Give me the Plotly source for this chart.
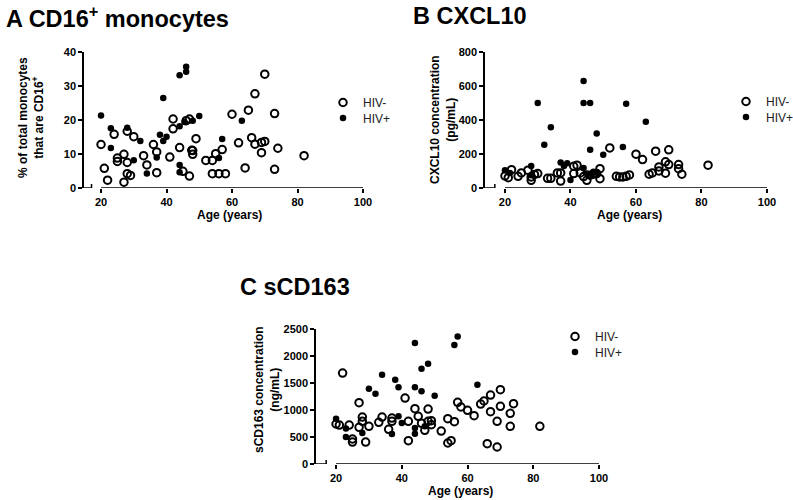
import plotly.graph_objects as go

W, H = 793, 500

# ---------------- DATA ----------------
# Panel A: CD16+ monocytes (% of total monocytes)
a_neg_age = [20, 21, 22, 24, 25, 25, 27, 27, 28, 28, 28, 29, 30, 33, 34, 36, 37, 37, 41, 42, 42, 44, 45,
             46, 47, 47, 47.7, 48, 48, 49, 52, 54, 54, 55, 56, 57, 58, 60, 62, 64, 65, 66, 67, 67, 69, 69,
             70, 70, 73, 73, 74, 82]
a_neg_val = [12.8, 5.8, 2.3, 15.8, 8.8, 7.8, 9.9, 1.7, 7.5, 16.7, 4.2, 3.7, 15.1, 9.5, 6.8, 12.8, 10.6, 4.5,
             9.1, 17.4, 20.3, 11.9, 4.9, 19.8, 20.3, 3.5, 11.1, 11.0, 9.9, 14.5, 8.1, 8.1, 4.2, 10.1, 4.2,
             11.3, 4.2, 21.7, 13.3, 5.9, 22.9, 14.8, 27.7, 12.9, 10.4, 13.4, 13.7, 33.5, 21.9, 5.5, 11.7, 9.5]
a_pos_age = [20, 23, 23, 28, 30, 32, 34, 37, 38, 39, 39, 40, 44, 44, 44, 44, 45.5, 46, 46, 48, 50, 56, 57, 63]
a_pos_val = [21.3, 17.6, 11.8, 17.7, 8.2, 13.8, 4.3, 9.0, 15.7, 26.5, 13.8, 15.1, 33.2, 18.2, 6.8, 4.6,
             19.4, 34.2, 35.7, 19.8, 21.2, 8.8, 14.4, 19.8]

# Panel B: CXCL10 concentration (pg/mL)
b_neg_age = [20, 21, 22, 24, 25, 27, 28, 28, 29, 30, 33, 34, 36, 37, 37, 41, 41, 42, 43, 44, 45, 46, 47,
             48, 49, 49, 52, 54, 55, 56, 57, 58, 60, 62, 64, 65, 66, 67, 67, 69, 69, 70, 70, 73, 73, 74, 82]
b_neg_val = [71, 61, 108, 69, 89, 105, 45, 65, 80, 85, 57, 57, 89, 89, 41, 85, 128, 134, 89, 67, 45, 75, 81,
             85, 114, 55, 236, 69, 65, 65, 69, 77, 199, 167, 81, 89, 217, 124, 100, 154, 87, 225, 138, 138,
             114, 81, 134]
b_pos_age = [20, 21.5, 28, 28, 30, 32, 34, 37, 38, 39, 40, 44, 44, 44, 45, 46, 46, 46, 47, 48, 48, 50, 56,
             57, 63]
b_pos_val = [104, 89, 130, 75, 500, 254, 357, 150, 130, 145, 47, 630, 500, 118, 85, 500, 225, 70, 95, 321,
             90, 195, 242, 496, 390]

# Panel C: sCD163 concentration (ng/mL)
c_neg_age = [20, 21, 22, 24, 25, 25, 27, 27, 28, 28, 29, 30, 33, 34, 36, 37, 37, 41, 42, 42, 44, 45, 46,
             47, 48, 48, 49, 49, 52, 54, 54, 55, 56, 57, 58, 60, 62, 64, 65, 66, 67, 67, 69, 69, 70, 70,
             73, 73, 74, 82]
c_neg_val = [741, 722, 1685, 722, 463, 407, 1136, 679, 870, 790, 407, 698, 772, 870, 642, 790, 850, 1222,
             790, 432, 1025, 883, 753, 623, 1018, 790, 802, 728, 611, 840, 389, 432, 784, 1142, 1056, 994,
             895, 1111, 1167, 377, 1278, 969, 790, 315, 1377, 1068, 938, 698, 1117, 698]
c_pos_age = [20, 23, 23, 28, 30, 32, 34, 37, 38, 39, 39, 40, 44, 44, 44, 44, 46, 46, 47, 48, 50, 56, 57, 63]
c_pos_val = [840, 660, 500, 574, 1395, 1302, 1654, 556, 1562, 1420, 883, 759, 2240, 1420, 667, 562, 1765,
             1346, 700, 1858, 1265, 2204, 2364, 1469]

x_ticks = [20, 40, 60, 80, 100]
a_y_ticks = [0, 10, 20, 30, 40]
b_y_ticks = [0, 200, 400, 600, 800]
c_y_ticks = [0, 500, 1000, 1500, 2000, 2500]
series_names = ["HIV-", "HIV+"]

# ---------------- LAYOUT GEOMETRY (pixels) ----------------
panels = [
    dict(x0=84, x1=363, yt=52, yb=188, xstart=14.8, brk=17.1, ymax=40, yticks=a_y_ticks,
         neg=(a_neg_age, a_neg_val), pos=(a_pos_age, a_pos_val), leg=(343, 101)),
    dict(x0=485, x1=767, yt=52, yb=188, xstart=13.9, brk=16.9, ymax=800, yticks=b_y_ticks,
         neg=(b_neg_age, b_neg_val), pos=(b_pos_age, b_pos_val), leg=(746, 100)),
    dict(x0=316, x1=599, yt=329, yb=464, xstart=13.9, brk=17.0, ymax=2500, yticks=c_y_ticks,
         neg=(c_neg_age, c_neg_val), pos=(c_pos_age, c_pos_val), leg=(575, 335)),
]
LEG_ROW = 15.5

def px(x):
    return x / W

def py(y):
    return 1 - y / H

FONT = "Liberation Sans, Arial, sans-serif"

fig = go.Figure()
shapes = []
layout = dict(width=W, height=H, margin=dict(l=0, r=0, t=0, b=0, pad=0, autoexpand=False),
              paper_bgcolor="white", plot_bgcolor="white", showlegend=True)

leg_idx = 0
for i, p in enumerate(panels):
    k = "" if i == 0 else str(i + 1)
    xa, ya = "x" + k, "y" + k
    markers = [dict(symbol="circle-open", size=7.5, color="black", line=dict(width=2, color="black")),
               dict(symbol="circle", size=6.5, color="black")]
    for j, (data, mk) in enumerate(zip([p["neg"], p["pos"]], markers)):
        leg_idx += 1
        lname = "legend" if leg_idx == 1 else "legend%d" % leg_idx
        fig.add_trace(go.Scatter(x=data[0], y=data[1], mode="markers", name=series_names[j],
                                 xaxis=xa, yaxis=ya, legend=lname, cliponaxis=False, marker=mk))
        lx, ly = p["leg"]
        ly = ly + j * LEG_ROW
        layout[lname] = dict(x=px(lx - 20), y=py(ly - 13), xanchor="left", yanchor="top",
                             bgcolor="rgba(0,0,0,0)", borderwidth=0, tracegroupgap=0,
                             font=dict(family=FONT, size=12, color="#222"))
    layout["xaxis" + k] = dict(domain=[px(p["x0"]), px(p["x1"])], range=[p["xstart"], 100],
                               anchor=ya, showline=False, showgrid=False, zeroline=False,
                               automargin=False,
                               ticks="outside", ticklen=4, tickwidth=1.5, tickcolor="black",
                               tickvals=x_ticks,
                               tickfont=dict(family=FONT, size=11, color="black", weight="bold"))
    layout["yaxis" + k] = dict(domain=[py(p["yb"]), py(p["yt"])], range=[0, p["ymax"] * 1.0005],
                               anchor=xa, showline=True, linecolor="black", linewidth=1.5,
                               automargin=False,
                               showgrid=False, zeroline=False, ticks="outside", ticklen=4,
                               tickwidth=1.5, tickcolor="black", tickvals=p["yticks"],
                               tickfont=dict(family=FONT, size=11, color="black", weight="bold"))
    # broken x axis line
    shapes.append(dict(type="line", xref=xa, yref=ya, x0=p["xstart"], x1=p["brk"], y0=0, y1=0,
                       line=dict(color="black", width=1.5)))
    shapes.append(dict(type="line", xref=xa, yref=ya, x0=20, x1=100, y0=0, y1=0,
                       line=dict(color="black", width=1.5)))
    shapes.append(dict(type="line", xref=xa, yref=ya, ysizemode="pixel", yanchor=0,
                       x0=p["brk"], x1=p["brk"], y0=-4, y1=4,
                       line=dict(color="black", width=1.5)))

layout["shapes"] = shapes

title_font = dict(family=FONT, size=23.5, color="black", weight="bold")
lab_font = dict(family=FONT, size=12, color="black", weight="bold")
annotations = [
    dict(text="A CD16<sup>+</sup> monocytes", x=px(4), y=py(17), xanchor="left", font=title_font),
    dict(text="B CXCL10", x=px(411), y=py(16), xanchor="left", font=title_font),
    dict(text="C sCD163", x=px(238), y=py(287), xanchor="left", font=title_font),
    dict(text="% of total monocytes<br>that are CD16<sup>+</sup>", x=px(31), y=py(118),
         textangle=-90, font=lab_font),
    dict(text="CXCL10 concentration<br>(pg/mL)", x=px(443), y=py(120), textangle=-90,
         font=lab_font),
    dict(text="sCD163 concentration<br>(ng/mL)", x=px(267), y=py(390), textangle=-90,
         font=lab_font),
    dict(text="Age (years)", x=px(229), y=py(215), font=lab_font),
    dict(text="Age (years)", x=px(629), y=py(215), font=lab_font),
    dict(text="Age (years)", x=px(460), y=py(491), font=lab_font),
]
for a in annotations:
    a.setdefault("xanchor", "center")
    a.setdefault("yanchor", "middle")
    a.update(xref="paper", yref="paper", showarrow=False)
layout["annotations"] = annotations

fig.update_layout(**layout)
fig.write_html("out.html", config={"displayModeBar": False},
               post_script="document.body.style.margin='0px';")
